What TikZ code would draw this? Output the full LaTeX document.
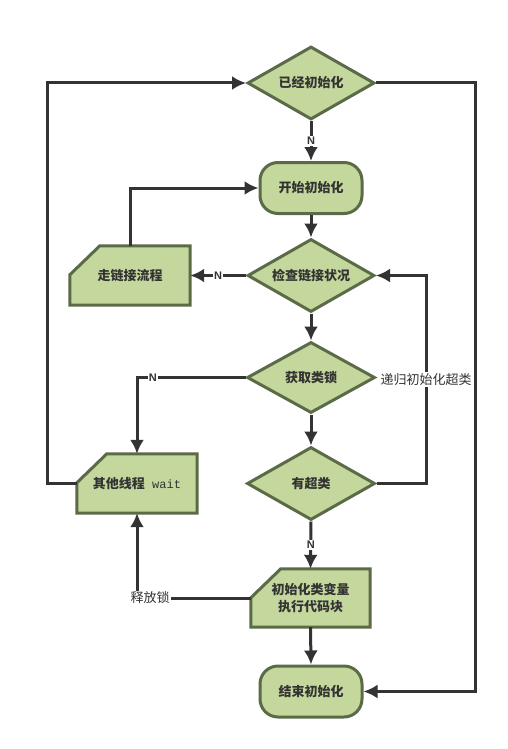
\documentclass[tikz,border=0pt]{standalone}
\usepackage{fontspec}
\newfontfamily\cjk{Noto Sans CJK SC}
\newfontfamily\monofnt{Liberation Mono}
\newfontfamily\latfnt{Liberation Sans}
\usetikzlibrary{shapes.geometric,arrows.meta,backgrounds}
\definecolor{boxfill}{HTML}{C4D79C}
\definecolor{boxline}{HTML}{5C6B47}
\definecolor{conncol}{HTML}{333333}
\definecolor{txtcol}{HTML}{333333}
\tikzset{
  nodetext/.style={font=\cjk\bfseries\fontsize{13}{17}\selectfont, text=txtcol, align=center},
  dec/.style={nodetext, diamond, aspect=1.7, inner sep=0pt, draw=boxline, fill=boxfill, line width=3pt, minimum width=127pt, minimum height=73pt},
  term/.style={nodetext, rectangle, rounded corners=18pt, draw=boxline, fill=boxfill, line width=3pt, minimum width=102pt, minimum height=51pt},
  cardnode/.style={nodetext, rectangle, inner sep=0pt, minimum width=120pt, minimum height=59pt},
  cardline/.style={draw=boxline, fill=boxfill, line width=3pt, line join=miter},
  conn/.style={draw=conncol, line width=3pt},
  arr/.style={conn, -{Latex[length=14pt,width=14pt]}},
  nlab/.style={font=\latfnt\bfseries\fontsize{11}{11}\selectfont, text=conncol, fill=white, inner sep=1pt},
  edgelab/.style={font=\cjk\fontsize{13}{13}\selectfont, text=conncol, fill=white, inner sep=1pt},
}
\begin{document}
\begin{tikzpicture}[x=1pt,y=-1pt]
\useasboundingbox (0,0) rectangle (507,749);
% nodes
\node[dec] (d1) at (311,83) {已经初始化};
\node[term] (start) at (311,188) {开始初始化};
\node[dec] (d2) at (311,275.5) {检查链接状况};
\node[cardnode] (link) at (130,275.5) {走链接流程};
\node[dec, minimum width=128pt, minimum height=71pt] (d3) at (311,377.5) {获取类锁};
\node[dec, minimum width=128pt] (d4) at (311,483.5) {有超类};
\node[cardnode] (wait) at (137,483.5) {其他线程{\monofnt\mdseries\fontsize{12}{12}\selectfont\ wait}};
\node[cardnode, minimum width=119pt, minimum height=58pt] (init) at (310.5,598) {初始化类变量\\执行代码块};
\node[term] (end) at (311,691.5) {结束初始化};
% background and card outlines
\begin{scope}[on background layer]
\fill[white] (0,0) rectangle (507,749);
\foreach \n in {link,wait,init}{
  \draw[cardline] ([xshift=30pt]\n.north west) -- (\n.north east) -- (\n.south east) -- (\n.south west) -- ([yshift=-29pt]\n.north west) -- cycle;
}
\end{scope}
% routing coordinates
\coordinate (lx) at (47,0);
\coordinate (rx) at (475,0);
\coordinate (mx) at (426,0);
% connectors
\draw[arr] (d1.south) -- node[nlab]{N} (start.north);
\draw[arr] (start.south) -- (d2.north);
\draw[arr] (d2.south) -- (d3.north);
\draw[arr] (d3.south) -- (d4.north);
\draw[arr] (d4.south) -- node[nlab]{N} (init.north);
\draw[arr] (init.south) -- (end.north);
\draw[arr] (d2.west) -- node[nlab]{N} (link.east);
\draw[arr] (link.north) |- (start.west);
\draw[arr] (wait.west) -- (wait.west -| lx) -- (lx |- d1.west) -- (d1.west);
\draw[arr] (d1.east) -- (d1.east -| rx) -- (rx |- end.east) -- (end.east);
\draw[arr] (d3.west) -- node[nlab, pos=0.855]{N} (d3.west -| wait.north) -- (wait.north);
\draw[arr] (d4.east) -- (d4.east -| mx) -- node[edgelab]{递归初始化超类} (mx |- d2.east) -- (d2.east);
\draw[arr] (init.west) -- (init.west -| wait.south) node[edgelab, xshift=13pt]{释放锁} -- (wait.south);
\end{tikzpicture}
\end{document}
